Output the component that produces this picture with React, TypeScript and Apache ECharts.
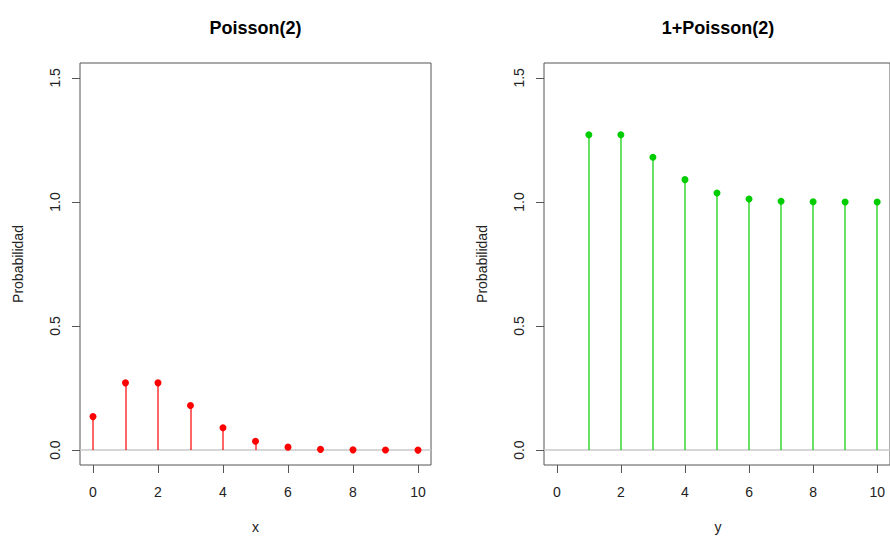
import React, { useEffect, useRef } from "react";
import * as echarts from "echarts";

const xValues = [0, 1, 2, 3, 4, 5, 6, 7, 8, 9, 10];
const pmfX = [0.135, 0.271, 0.271, 0.180, 0.090, 0.036, 0.012, 0.003, 0.001, 0.0002, 0.00004];
const yValues = [1, 2, 3, 4, 5, 6, 7, 8, 9, 10];
const pmfY = [1.271, 1.271, 1.180, 1.090, 1.036, 1.012, 1.003, 1.001, 1.0002, 1.00004];
const xTicks = [0, 2, 4, 6, 8, 10];
const yTicks = [0, 0.5, 1.0, 1.5];
const titles = ["Poisson(2)", "1+Poisson(2)"];
const xNames = ["x", "y"];
const yName = "Probabilidad";

const FONT = "'Liberation Sans', Arial, sans-serif";

export default function App() {
  const ref = useRef<HTMLDivElement>(null);
  useEffect(() => {
    if (!ref.current) return;
    const chart = echarts.init(ref.current, null, { renderer: "svg" });
    const grids = [
      { left: 80, top: 63, width: 351, height: 402 },
      { left: 544, top: 63, width: 349, height: 402 },
    ];
    const mkX = (i: number) => ({
      type: "value",
      gridIndex: i,
      min: -0.4,
      max: 10.4,
      splitLine: { show: false },
      axisLine: { show: false, onZero: false },
      axisTick: { show: true, customValues: xTicks, length: 8, lineStyle: { color: "#555" } },
      axisLabel: {
        customValues: xTicks,
        margin: 20,
        color: "#222",
        fontSize: 14,
        fontFamily: FONT,
        formatter: (v: number) => String(v),
      },
    });
    const mkY = (i: number) => ({
      type: "value",
      gridIndex: i,
      min: -0.06,
      max: 1.56,
      splitLine: { show: false },
      axisLine: { show: false, onZero: false },
      axisTick: { show: true, customValues: yTicks, length: 8, lineStyle: { color: "#555" } },
      axisLabel: {
        customValues: yTicks,
        rotate: 90,
        margin: 18,
        color: "#222",
        fontSize: 14,
        fontFamily: FONT,
        formatter: (v: number) => v.toFixed(1),
      },
    });
    const stem = (i: number, xs: number[], ys: number[], color: string) => ({
      type: "custom",
      xAxisIndex: i,
      yAxisIndex: i,
      data: xs.map((x, k) => [x, ys[k]]),
      encode: { x: 0, y: 1 },
      itemStyle: { color },
      renderItem: (params: any, api: any) => {
        const p0 = api.coord([api.value(0), 0]);
        const p1 = api.coord([api.value(0), api.value(1)]);
        const px = Math.round(p0[0]);
        return {
          type: "rect",
          shape: { x: px - 0.6, y: p1[1], width: 1.2, height: Math.max(0, p0[1] - p1[1]) },
          style: { fill: color, stroke: null, opacity: 1 },
        };
      },
      z: 3,
    });
    const pts = (i: number, xs: number[], ys: number[], color: string) => ({
      type: "scatter",
      xAxisIndex: i,
      yAxisIndex: i,
      data: xs.map((x, k) => [x, ys[k]]),
      symbol: "circle",
      symbolSize: 7,
      itemStyle: { color, opacity: 1 },
      z: 4,
      markLine: {
        silent: true,
        symbol: "none",
        label: { show: false },
        lineStyle: { color: "#c8c8c8", type: "solid", width: 1.5, opacity: 1 },
        data: [{ yAxis: 0 }],
        z: 2,
      },
    });
    const graphics: any[] = [];
    grids.forEach((g, i) => {
      const cx = i === 0 ? g.left + g.width / 2 : 718;
      graphics.push({
        type: "text",
        x: cx,
        y: 28,
        style: {
          text: titles[i],
          font: `bold 18px ${FONT}`,
          fill: "#000",
          textAlign: "center",
          textVerticalAlign: "middle",
        },
      });
      graphics.push({
        type: "text",
        x: cx,
        y: 527,
        style: {
          text: xNames[i],
          font: `14px ${FONT}`,
          fill: "#222",
          textAlign: "center",
          textVerticalAlign: "middle",
        },
      });
      graphics.push({
        type: "text",
        x: g.left - 62,
        y: g.top + g.height / 2,
        rotation: Math.PI / 2,
        style: {
          text: yName,
          font: `14px ${FONT}`,
          fill: "#222",
          textAlign: "center",
          textVerticalAlign: "middle",
        },
      });
    });
    chart.setOption({
      animation: false,
      backgroundColor: "#fff",
      grid: grids.map((g) => ({ ...g, show: true, borderColor: "#555", borderWidth: 1, backgroundColor: "transparent" })),
      xAxis: [mkX(0), mkX(1)],
      yAxis: [mkY(0), mkY(1)],
      series: [
        stem(0, xValues, pmfX, "#ff0000"),
        pts(0, xValues, pmfX, "#ff0000"),
        stem(1, yValues, pmfY, "#00cd00"),
        pts(1, yValues, pmfY, "#00cd00"),
      ],
      graphic: graphics,
    });
    return () => chart.dispose();
  }, []);
  return (
    <div
      ref={ref}
      style={{ position: "absolute", left: 0, top: 0, width: 890, height: 536, background: "#fff" }}
    />
  );
}
